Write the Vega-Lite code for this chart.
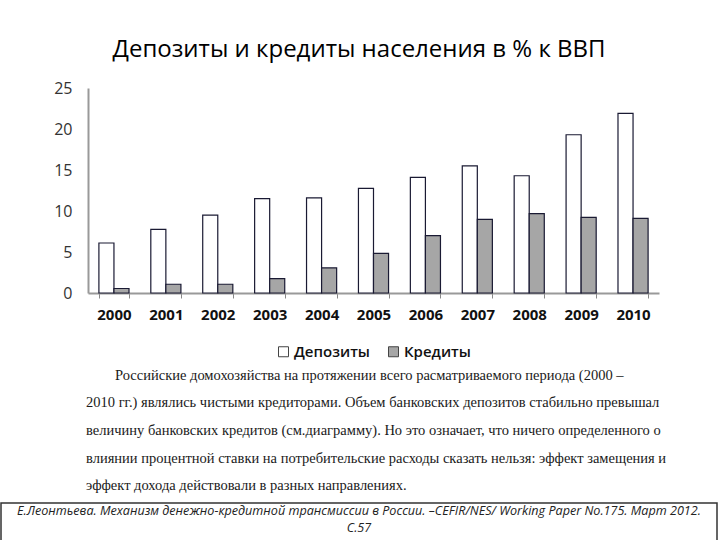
{
  "$schema": "https://vega.github.io/schema/vega-lite/v6.json",
  "padding": {"left": 0, "right": 1, "top": 38, "bottom": 0},
  "background": "white",
  "title": {"text": "Депозиты и кредиты населения в % к ВВП", "fontSize": 24, "font": "Open Sans", "fontWeight": "normal", "color": "#000000", "anchor": "middle", "offset": 18},
  "config": {"view": {"stroke": null}, "font": "Open Sans", "legend": {"layout": {"bottom": {"anchor": "middle"}}}},
  "spacing": 2,
  "resolve": {"legend": {"color": "independent"}, "scale": {"color": "independent"}},
  "vconcat": [
    {
      "spacing": 0,
      "resolve": {"legend": {"color": "independent"}, "scale": {"color": "independent"}},
      "hconcat": [
        {"width": 1, "height": 1, "data": {"values": []}, "mark": "point"},
        {
          "width": 571,
          "height": 205,
          "data": {"values": [
            {"year": "2000", "series": "Депозиты", "value": 6.1},
            {"year": "2000", "series": "Кредиты", "value": 0.55},
            {"year": "2001", "series": "Депозиты", "value": 7.75},
            {"year": "2001", "series": "Кредиты", "value": 1.07},
            {"year": "2002", "series": "Депозиты", "value": 9.5},
            {"year": "2002", "series": "Кредиты", "value": 1.07},
            {"year": "2003", "series": "Депозиты", "value": 11.5},
            {"year": "2003", "series": "Кредиты", "value": 1.76},
            {"year": "2004", "series": "Депозиты", "value": 11.6},
            {"year": "2004", "series": "Кредиты", "value": 3.07},
            {"year": "2005", "series": "Депозиты", "value": 12.75},
            {"year": "2005", "series": "Кредиты", "value": 4.84},
            {"year": "2006", "series": "Депозиты", "value": 14.1},
            {"year": "2006", "series": "Кредиты", "value": 7.0},
            {"year": "2007", "series": "Депозиты", "value": 15.5},
            {"year": "2007", "series": "Кредиты", "value": 8.98},
            {"year": "2008", "series": "Депозиты", "value": 14.3},
            {"year": "2008", "series": "Кредиты", "value": 9.67},
            {"year": "2009", "series": "Депозиты", "value": 19.3},
            {"year": "2009", "series": "Кредиты", "value": 9.22},
            {"year": "2010", "series": "Депозиты", "value": 21.9},
            {"year": "2010", "series": "Кредиты", "value": 9.1}
          ]},
          "mark": {"type": "bar", "stroke": "#1a1a33", "strokeWidth": 1.2},
          "encoding": {
            "x": {
              "field": "year", "type": "nominal",
              "scale": {"paddingInner": 0.42, "paddingOuter": 0.21},
              "axis": {"title": null, "labelAngle": 0, "labelFontSize": 15, "labelFontWeight": "bold", "labelColor": "#111111", "tickBand": "extent", "tickColor": "#888888", "tickSize": 5, "domainColor": "#999999", "domainWidth": 2, "labelPadding": 9}
            },
            "xOffset": {"field": "series", "type": "nominal", "sort": ["Депозиты", "Кредиты"]},
            "y": {
              "field": "value", "type": "quantitative",
              "scale": {"domain": [0, 25]},
              "axis": {"title": null, "values": [0, 5, 10, 15, 20, 25], "grid": false, "ticks": false, "labelFontSize": 16, "labelColor": "#333333", "domainColor": "#999999", "domainWidth": 2, "labelPadding": 16, "minExtent": 86}
            },
            "color": {
              "field": "series", "type": "nominal",
              "scale": {"domain": ["Депозиты", "Кредиты"], "range": ["#ffffff", "#a6a6a6"]},
              "legend": {"orient": "bottom", "direction": "horizontal", "title": null, "symbolType": "square", "symbolSize": 100, "symbolStrokeColor": "#444444", "symbolStrokeWidth": 1, "labelFontSize": 15, "labelFontWeight": 600, "labelColor": "#111111", "columnPadding": 16, "offset": 22, "labelOffset": 3}
            }
          }
        }
      ]
    },
    {
      "spacing": 0,
      "hconcat": [
        {"width": 85, "height": 1, "data": {"values": []}, "mark": "point"},
        {
          "width": 580,
          "height": 138,
          "data": {"values": [
            {"line": 1, "text": "\u200b\u2003\u2003Российские домохозяйства на протяжении всего расматриваемого периода (2000 –"},
            {"line": 2, "text": "2010 гг.) являлись чистыми кредиторами. Объем банковских депозитов стабильно превышал"},
            {"line": 3, "text": "величину банковских кредитов (см.диаграмму). Но это означает, что ничего определенного о"},
            {"line": 4, "text": "влиянии процентной ставки на потребительские расходы сказать нельзя: эффект замещения и"},
            {"line": 5, "text": "эффект дохода действовали в разных направлениях."}
          ]},
          "mark": {"type": "text", "align": "left", "baseline": "middle", "font": "Liberation Serif", "fontSize": 14.5, "color": "#1a1a1a"},
          "encoding": {
            "x": {"datum": 0, "type": "quantitative", "scale": {"domain": [0, 1]}, "axis": null},
            "y": {"field": "line", "type": "ordinal", "axis": null},
            "text": {"field": "text"}
          }
        }
      ]
    },
    {
      "width": 716,
      "height": 38,
      "view": {"stroke": "#333333", "strokeWidth": 1.5},
      "data": {"values": [
        {"line": 1, "text": "Е.Леонтьева. Механизм денежно-кредитной трансмиссии в России. –CEFIR/NES/ Working Paper No.175. Март 2012."},
        {"line": 2, "text": "С.57"}
      ]},
      "mark": {"type": "text", "font": "Open Sans", "fontStyle": "italic", "fontSize": 12.6, "color": "#222222", "baseline": "middle"},
      "encoding": {
        "y": {"field": "line", "type": "ordinal", "scale": {"padding": 0.586, "align": 0.37}, "axis": null},
        "text": {"field": "text"}
      }
    }
  ]
}
